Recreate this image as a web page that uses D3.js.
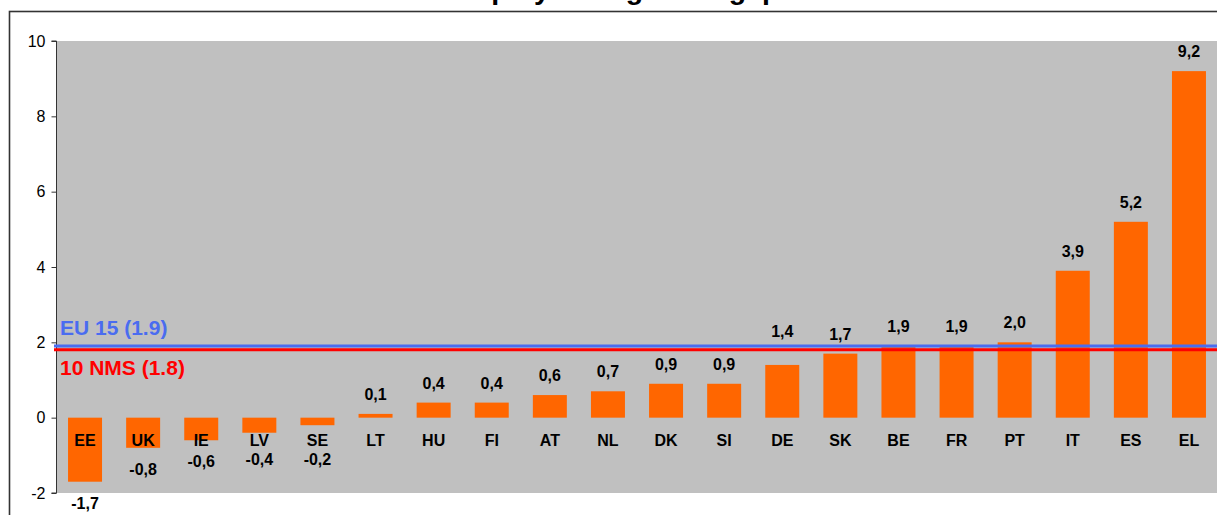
<!DOCTYPE html>
<html>
<head>
<meta charset="utf-8">
<script src="https://cdn.jsdelivr.net/npm/d3@7"></script>
<style>
  html, body { margin: 0; padding: 0; background: #fff; }
  svg { display: block; font-family: "Liberation Sans", Arial, sans-serif; }
</style>
</head>
<body>
<svg id="chart" width="1217" height="515"></svg>
<script>
// Unemployment gender gap by country (percentage points)
const categories = ["EE","UK","IE","LV","SE","LT","HU","FI","AT","NL","DK","SI","DE","SK","BE","FR","PT","IT","ES","EL"];
const values = [-1.7,-0.8,-0.6,-0.4,-0.2,0.1,0.4,0.4,0.6,0.7,0.9,0.9,1.4,1.7,1.9,1.9,2.0,3.9,5.2,9.2];
const yTicks = [-2, 0, 2, 4, 6, 8, 10];
const refNames = ["EU 15", "10 NMS"];
const refValues = [1.9, 1.8];
const refColors = ["#4a6cf0", "#ff0000"];
const titleText = "Unemployment gender gap";

const svg = d3.select("#chart");
const W = 1217, H = 515;
const plot = { left: 57, right: 1217, top: 41, bottom: 493 };

// comma decimals, plain hyphen for negatives
const locale = d3.formatLocale({ decimal: ",", thousands: ".", grouping: [3], currency: ["", " €"], minus: "-" });
const fmt = locale.format(".1f");
const fmtTick = locale.format("d");

const x = d3.scaleBand()
  .domain(categories)
  .range([plot.left, 1217])
  .paddingInner(0.415)
  .paddingOuter(0.19);

const y = d3.scaleLinear()
  .domain([-2, 10])
  .range([plot.bottom, plot.top]);

// title (mostly above the visible area)
svg.append("text")
  .attr("x", 412).attr("y", -1)
  .attr("font-size", 28.5).attr("font-weight", "bold")
  .attr("fill", "#000")
  .text(titleText);

// outer chart frame
svg.append("rect")
  .attr("x", 9.5).attr("y", 11.5)
  .attr("width", W + 20).attr("height", H + 20)
  .attr("fill", "none").attr("stroke", "#333").attr("stroke-width", 1.6);

// plot area background
svg.append("rect")
  .attr("x", plot.left).attr("y", plot.top)
  .attr("width", plot.right - plot.left).attr("height", plot.bottom - plot.top)
  .attr("fill", "#c0c0c0");

// bars
const zero = y(0);
svg.append("g").selectAll("rect")
  .data(values)
  .join("rect")
  .attr("x", (d, i) => x(categories[i]))
  .attr("width", x.bandwidth())
  .attr("y", d => Math.min(y(d), zero))
  .attr("height", d => Math.abs(y(d) - zero))
  .attr("fill", "#ff6600");

// y axis
const yAxis = d3.axisLeft(y).tickValues(yTicks).tickSize(5).tickPadding(6).tickFormat(fmtTick);
const ga = svg.append("g")
  .attr("transform", `translate(${plot.left - 0.5},0)`)
  .call(yAxis);
ga.select(".domain").attr("stroke", "#333").attr("d", `M-5,${y(10)}H0V${y(-2)}H-5`);
ga.selectAll(".tick line").attr("stroke", "#333");
ga.selectAll(".tick text")
  .attr("font-size", 16).attr("fill", "#000")
  .attr("font-family", "'Liberation Sans', Arial, sans-serif");

// reference lines
refValues.forEach((v, i) => {
  svg.append("line")
    .attr("x1", plot.left - 3).attr("x2", W)
    .attr("y1", y(v)).attr("y2", y(v))
    .attr("stroke", refColors[i]).attr("stroke-width", 3);
});
svg.append("text")
  .attr("x", 60).attr("y", 335)
  .attr("font-size", 21).attr("font-weight", "bold")
  .attr("fill", refColors[0])
  .text(`${refNames[0]} (${refValues[0]})`);
svg.append("text")
  .attr("x", 60).attr("y", 375)
  .attr("font-size", 21).attr("font-weight", "bold")
  .attr("fill", refColors[1])
  .text(`${refNames[1]} (${refValues[1]})`);

// category labels just below the zero line
svg.append("g").selectAll("text")
  .data(categories)
  .join("text")
  .attr("x", d => x(d) + x.bandwidth() / 2)
  .attr("y", zero + 28)
  .attr("text-anchor", "middle")
  .attr("font-size", 16).attr("font-weight", "bold")
  .attr("fill", "#000")
  .text(d => d);

// value labels; a label that would sit on the reference lines is lifted above them
const refTop = d3.min(refValues, v => y(v));
const refBottom = d3.max(refValues, v => y(v));
function labelY(d) {
  if (d < 0) return Math.max(y(d) + 27, zero + 47);
  const base = y(d) - 14;
  if (base > refTop - 3 && base - 12 < refBottom + 2) return refTop - 9;
  return base;
}
svg.append("g").selectAll("text")
  .data(values)
  .join("text")
  .attr("x", (d, i) => x(categories[i]) + x.bandwidth() / 2)
  .attr("y", labelY)
  .attr("text-anchor", "middle")
  .attr("font-size", 16).attr("font-weight", "bold")
  .attr("fill", "#000")
  .text(d => fmt(d));
</script>
</body>
</html>
